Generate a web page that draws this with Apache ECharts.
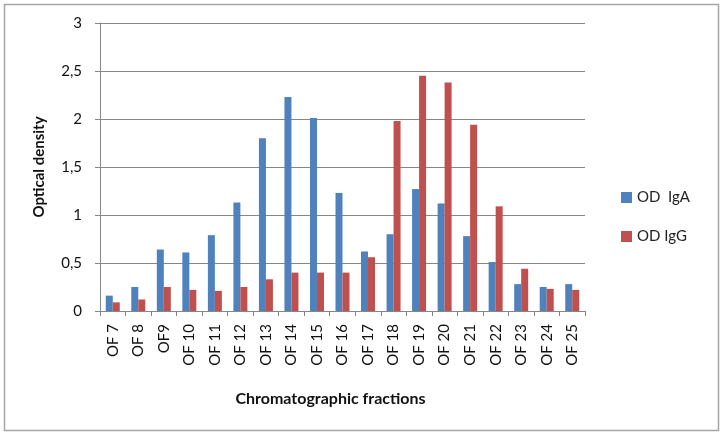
<!DOCTYPE html>
<html><head><meta charset="utf-8">
<script src="https://cdn.jsdelivr.net/npm/echarts@6/dist/echarts.min.js"></script>
<style>html,body{margin:0;padding:0;background:#fff}#c{width:720px;height:433px}</style>
</head><body><div id="c"></div>
<script>
const categories = ['OF 7','OF 8','OF9','OF 10','OF 11','OF 12','OF 13','OF 14','OF 15','OF 16','OF 17','OF 18','OF 19','OF 20','OF 21','OF 22','OF 23','OF 24','OF 25'];
const odIgA = [0.16,0.25,0.64,0.61,0.79,1.13,1.80,2.23,2.01,1.23,0.62,0.80,1.27,1.12,0.78,0.51,0.28,0.25,0.28];
const odIgG = [0.09,0.12,0.25,0.22,0.21,0.25,0.33,0.40,0.40,0.40,0.56,1.98,2.45,2.38,1.94,1.09,0.44,0.23,0.22];
const yTicks = [0,0.5,1,1.5,2,2.5,3];

const chart = echarts.init(document.getElementById('c'));
const font = 'Lato, "Open Sans", "Liberation Sans", sans-serif';
chart.setOption({
  animation:false,
  textStyle:{fontFamily:font},
  graphic:[{type:'rect',left:2,top:2,shape:{width:714,height:426},style:{fill:'none',stroke:'#a6a6a6',lineWidth:1.5}}],
  grid:{left:100,right:135,top:23,bottom:122},
  legend:{orient:'vertical',left:616,top:185,itemWidth:11,itemHeight:11,itemGap:24,icon:'rect',
    textStyle:{fontSize:15,color:'#222',fontFamily:font},
    data:['OD  IgA','OD IgG']},
  xAxis:{type:'category',data:categories,
    name:'Chromatographic fractions',nameLocation:'middle',nameGap:80,
    nameTextStyle:{fontSize:16,fontWeight:'bold',color:'#111',fontFamily:font,padding:[0,24,0,0]},
    axisLine:{lineStyle:{color:'#868686'}},
    axisTick:{show:true,alignWithLabel:false,length:5,lineStyle:{color:'#868686'}},
    axisLabel:{rotate:90,fontSize:15,color:'#111',margin:13,interval:0,fontFamily:font}},
  yAxis:{type:'value',min:0,max:3,interval:0.5,
    name:'Optical density',nameLocation:'middle',nameGap:53,
    nameTextStyle:{fontSize:15,fontWeight:'bold',color:'#111',fontFamily:font},
    axisLine:{show:true,lineStyle:{color:'#868686'}},
    axisTick:{show:true,length:5,lineStyle:{color:'#868686'}},
    splitLine:{lineStyle:{color:'#868686'}},
    axisLabel:{fontSize:15,color:'#111',margin:18,fontFamily:font,
      formatter:v=>{const t=yTicks.find(x=>Math.abs(x-v)<1e-9);return String(t!==undefined?t:v).replace('.',',');}}},
  series:[
    {name:'OD  IgA',type:'bar',data:odIgA,itemStyle:{color:'#4F81BD'},barWidth:7,barGap:'0%'},
    {name:'OD IgG',type:'bar',data:odIgG,itemStyle:{color:'#C0504D'},barWidth:7,barGap:'0%'}
  ]
});
</script></body></html>
